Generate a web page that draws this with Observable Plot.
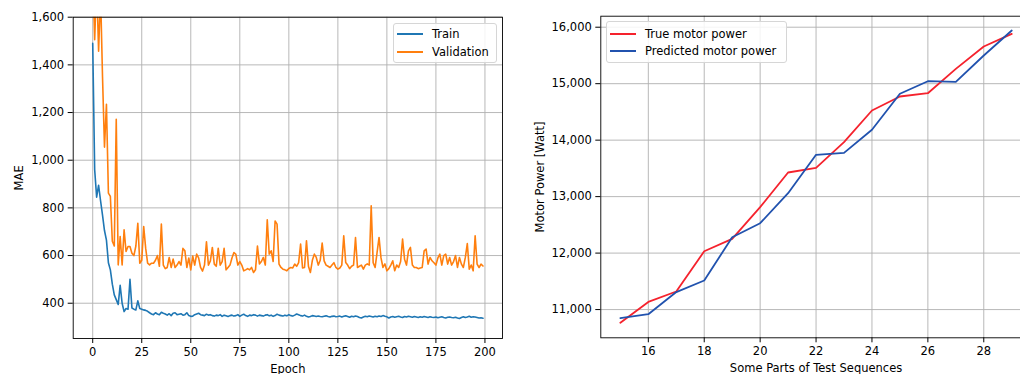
<!DOCTYPE html>
<html>
<head>
<meta charset="utf-8">
<script src="https://cdn.jsdelivr.net/npm/d3@7"></script>
<script src="https://cdn.jsdelivr.net/npm/@observablehq/plot@0.6"></script>
<style>
  html, body { margin: 0; padding: 0; background: #fff; overflow: hidden; width: 1020px; height: 374px; }
  #wrap { position: relative; width: 1020px; height: 374px; overflow: hidden; font-family: "DejaVu Sans", sans-serif; }
  #left { position: absolute; left: 0; top: 0; width: 520px; height: 374px; }
  #right { position: absolute; left: 520px; top: 0; width: 530px; height: 374px; }
  #wrap svg { max-width: none !important; display: block; }
  .legend { position: absolute; background: rgba(255,255,255,0.85); border: 1px solid #d6d6d6; border-radius: 3px; box-sizing: border-box; font-size: 11.5px; color: #000; }
  .row { position: absolute; left: 0; height: 14px; white-space: nowrap; }
  .swatch { position: absolute; left: 3px; top: 6px; width: 26px; height: 2px; }
  .lbl { position: absolute; left: 38px; top: 0; line-height: 14px; }
</style>
</head>
<body>
<div id="wrap">
  <div id="left"></div>
  <div id="right"></div>
</div>
<script>
// ---------- Left panel data: MAE per epoch ----------
const trainMAE = [
  1490, 960, 845, 895, 830, 770, 705, 665, 570, 540,
  480, 435, 415, 395, 475, 400, 365, 378, 375, 500,
  380, 375, 372, 410, 378, 375, 372, 370, 366, 360,
  355, 352, 360, 355, 352,
  362, 358, 355, 350, 356, 348, 358, 360, 352, 354,
  356, 350, 352, 360, 348, 345, 346, 352, 355, 358,
  352, 350, 348, 354, 350, 352, 348, 346, 350, 348,
  352, 345, 350, 347, 344, 348, 350, 346, 348, 352,
  345, 350, 354, 348, 345, 350, 348, 352, 350, 346,
  350, 348, 346, 350, 352, 347, 350, 345, 348, 354,
  350, 348, 346, 350, 347, 352, 348, 346, 350, 355,
  352, 348, 346, 350, 345, 342, 344, 348, 346, 344,
  346, 344, 343, 345, 347, 344, 342, 345, 346, 343,
  344, 346, 342, 345, 347, 344, 341, 345, 343, 346,
  344, 340, 338, 342, 345, 343, 346, 344, 342, 345,
  343, 346, 344, 348, 345, 343, 338, 342, 344, 341,
  343, 345, 342, 340, 344, 342, 345, 343, 341, 344,
  342, 340, 343, 341, 344, 342, 340, 343, 341, 340,
  342, 339, 341, 343, 340, 338, 341, 342, 340, 339,
  341, 338, 336, 340, 343, 340, 342, 345, 341, 343,
  342, 340, 338, 339, 337
];
const validationMAE = [
  1800, 1506, 1750, 1457, 1700, 1350, 1055, 1235, 862, 848,
  660, 640, 1172, 561, 680, 561, 708, 617, 638, 638,
  610, 600, 640, 735, 568, 580, 722, 631, 568, 561,
  568, 568, 580, 600, 555, 732, 560, 545, 550, 592,
  550, 585, 550, 560, 575, 560, 630, 620, 550, 590,
  540, 598, 560, 606, 590, 550, 535, 560, 658, 560,
  578, 634, 564, 555, 630, 560, 575, 630, 540, 550,
  560, 590, 613, 605, 560, 575, 560, 536, 540, 545,
  540, 550, 529, 540, 640, 565, 575, 592, 560, 750,
  606, 620, 575, 745, 732, 564, 550, 543, 540, 536,
  546, 550, 548, 564, 555, 570, 648, 548, 550, 662,
  555, 529, 580, 606, 592, 560, 580, 652, 578, 560,
  555, 550, 560, 570, 550, 543, 548, 560, 683, 571,
  560, 545, 555, 560, 676, 550, 555, 560, 543, 560,
  565, 560, 809, 570, 550, 613, 676, 590, 550, 565,
  536, 545, 560, 578, 536, 560, 550, 575, 669, 585,
  560, 620, 634, 560, 550, 550, 545, 548, 550, 620,
  627, 564, 592, 578, 570, 560, 590, 606, 560, 600,
  606, 564, 592, 560, 575, 600, 550, 592, 564, 550,
  592, 650, 543, 560, 536, 683, 564, 550, 564, 556
];
const epochTicks = [0, 25, 50, 75, 100, 125, 150, 175, 200];
const maeTicks = [400, 600, 800, 1000, 1200, 1400, 1600];

// ---------- Right panel data: motor power ----------
const seqParts = [15, 16, 17, 18, 19, 20, 21, 22, 23, 24, 25, 26, 27, 28, 29];
const truePower = [10765, 11135, 11320, 12033, 12253, 12813, 13427, 13510, 13964, 14525, 14773, 14831, 15263, 15658, 15883];
const predPower = [10847, 10918, 11310, 11514, 12281, 12529, 13060, 13740, 13775, 14183, 14821, 15044, 15033, 15499, 15942];
const seqTicks = [16, 18, 20, 22, 24, 26, 28];
const powerTicks = [11000, 12000, 13000, 14000, 15000, 16000];

const seriesLeft = ["Train", "Validation"];
const seriesRight = ["True motor power", "Predicted motor power"];
const colLeft = ["#1f77b4", "#ff7f0e"];
const colRight = ["#f5222d", "#2152ae"];

const fmt = d3.format(",");
const gridStyle = {stroke: "#b0b0b0", strokeOpacity: 1, strokeWidth: 0.9};
const baseStyle = {fontFamily: "DejaVu Sans, sans-serif", fontSize: "11.5px", color: "#000", background: "transparent", overflow: "visible", maxWidth: "none"};

const leftRows = [];
trainMAE.forEach((v, i) => leftRows.push({epoch: i, mae: v, s: seriesLeft[0]}));
validationMAE.forEach((v, i) => leftRows.push({epoch: i, mae: v, s: seriesLeft[1]}));

const leftPlot = Plot.plot({
  width: 520, height: 374,
  marginLeft: 72.7, marginRight: 18, marginTop: 16.7, marginBottom: 36,
  style: baseStyle,
  x: {domain: [-9.95, 208.95]},
  y: {domain: [252, 1600]},
  color: {domain: seriesLeft, range: colLeft},
  marks: [
    Plot.gridX(epochTicks, gridStyle),
    Plot.gridY(maeTicks, gridStyle),
    Plot.line(leftRows, {x: "epoch", y: "mae", z: "s", stroke: "s", strokeWidth: 1.6, clip: true}),
    Plot.frame({stroke: "#000", strokeWidth: 0.9}),
    Plot.axisX({ticks: epochTicks, tickSize: 5, tickPadding: 4, label: "Epoch", labelAnchor: "center", labelArrow: "none", labelOffset: 34}),
    Plot.axisY({ticks: maeTicks, tickFormat: fmt, tickSize: 5, tickPadding: 4, label: "MAE", labelAnchor: "center", labelArrow: "none", labelOffset: 58})
  ]
});
document.getElementById("left").appendChild(leftPlot);

const rightRows = [];
seqParts.forEach((x, i) => rightRows.push({x, p: truePower[i], s: seriesRight[0]}));
seqParts.forEach((x, i) => rightRows.push({x, p: predPower[i], s: seriesRight[1]}));

const rightPlot = Plot.plot({
  width: 530, height: 374,
  marginLeft: 80.3, marginRight: 19.2, marginTop: 15.7, marginBottom: 36.7,
  style: baseStyle,
  x: {domain: [14.3, 29.7]},
  y: {domain: [10500, 16195]},
  color: {domain: seriesRight, range: colRight},
  marks: [
    Plot.gridX(seqTicks, gridStyle),
    Plot.gridY(powerTicks, gridStyle),
    Plot.line(rightRows, {x: "x", y: "p", z: "s", stroke: "s", strokeWidth: 1.8}),
    Plot.frame({stroke: "#000", strokeWidth: 0.9}),
    Plot.axisX({ticks: seqTicks, tickSize: 5, tickPadding: 4, label: "Some Parts of Test Sequences", labelAnchor: "center", labelArrow: "none", labelOffset: 34}),
    Plot.axisY({ticks: powerTicks, tickFormat: fmt, tickSize: 5, tickPadding: 4, label: "Motor Power [Watt]", labelAnchor: "center", labelArrow: "none", labelOffset: 65})
  ]
});
document.getElementById("right").appendChild(rightPlot);

// ---------- Legends ----------
function legend(names, colors, box) {
  const div = document.createElement("div");
  div.className = "legend";
  Object.assign(div.style, {left: box.left + "px", top: box.top + "px", width: box.width + "px", height: box.height + "px"});
  names.forEach((n, i) => {
    const row = document.createElement("div");
    row.className = "row";
    row.style.top = (box.rowTop + i * box.rowStep) + "px";
    const s = document.createElement("div");
    s.className = "swatch";
    s.style.background = colors[i];
    const t = document.createElement("div");
    t.className = "lbl";
    t.textContent = n;
    row.appendChild(s); row.appendChild(t);
    div.appendChild(row);
  });
  document.getElementById("wrap").appendChild(div);
}
legend(seriesLeft, colLeft, {left: 393, top: 23, width: 104, height: 40, rowTop: 3, rowStep: 17.7});
legend(seriesRight, colRight, {left: 606, top: 21, width: 181, height: 42, rowTop: 5, rowStep: 17.4});
</script>
</body>
</html>
